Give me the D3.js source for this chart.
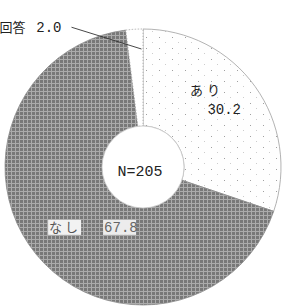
<!doctype html>
<html lang="ja">
<head>
<meta charset="utf-8">
<title>あり・なし 円グラフ</title>
<style>
  html, body { margin: 0; padding: 0; background: #fff; }
  svg { display: block; }
  text { font-family: 'Liberation Mono', 'Noto Sans CJK JP', monospace; }
</style>
</head>
<body>
<div id="chart"></div>
<script src="https://cdn.jsdelivr.net/npm/d3@7"></script>
<script>
// data
var categories = ["あり", "なし", "無回答"];
var values = [30.2, 67.8, 2.0];
var valueLabels = ["30.2", "67.8", "2.0"];
var centerLabel = "N=205";

var W = 283, H = 308;
var cx = 143, cy = 167, outerR = 138, innerR = 41;

var svg = d3.select("#chart").append("svg")
    .attr("width", W).attr("height", H);

var defs = svg.append("defs");

// gray screen tone for なし
var grid = defs.append("pattern").attr("id", "grid")
    .attr("width", 4).attr("height", 4).attr("patternUnits", "userSpaceOnUse");
grid.append("rect").attr("width", 4).attr("height", 4).attr("fill", "#787878");
grid.append("rect").attr("width", 1).attr("height", 4).attr("fill", "#ababab");
grid.append("rect").attr("width", 4).attr("height", 1).attr("fill", "#ababab");

// sparse dots for あり
var dots = defs.append("pattern").attr("id", "dots")
    .attr("width", 13).attr("height", 11).attr("patternUnits", "userSpaceOnUse");
dots.append("rect").attr("width", 13).attr("height", 11).attr("fill", "#fefefe");
dots.append("rect").attr("x", 3).attr("y", 2).attr("width", 1).attr("height", 1).attr("fill", "#a0a0a0");
dots.append("rect").attr("x", 9).attr("y", 7).attr("width", 1).attr("height", 1).attr("fill", "#cccccc");

var fills = d3.scaleOrdinal().domain(categories)
    .range(["url(#dots)", "url(#grid)", "#ffffff"]);

var pie = d3.pie().sort(null).value(function(d) { return d.value; });
var arcs = pie(categories.map(function(c, i) {
  return { name: c, value: values[i], label: valueLabels[i] };
}));

var arc = d3.arc().innerRadius(innerR).outerRadius(outerR);

var g = svg.append("g").attr("transform", "translate(" + cx + "," + cy + ")");

g.selectAll("path.slice").data(arcs).enter().append("path")
    .attr("class", "slice")
    .attr("d", arc)
    .attr("fill", function(d) { return fills(d.data.name); })
    .attr("stroke", function(d) { return d.index === 1 ? "#8a8a8a" : "#a0a0a0"; })
    .attr("stroke-width", 0.8)
    .attr("stroke-dasharray", function(d) { return d.index === 2 ? "1.5,1.5" : null; });

// hole
g.append("circle").attr("r", innerR).attr("fill", "#fff")
    .attr("stroke", "#c8c8c8").attr("stroke-width", 0.8);

g.append("text").attr("x", -3).attr("y", 9)
    .attr("text-anchor", "middle")
    .attr("font-size", 15).attr("fill", "#222")
    .text(centerLabel);

function polar(angle, r) {
  return [r * Math.sin(angle), -r * Math.cos(angle)];
}
function mid(d) { return (d.startAngle + d.endAngle) / 2; }

// あり
var a0 = arcs[0];
var pa = polar(mid(a0) - 0.17, 94);
g.append("text").attr("x", pa[0] - 19).attr("y", pa[1] - 5)
    .attr("font-size", 13).attr("fill", "#222")
    .attr("letter-spacing", 4)
    .text(a0.data.name);
g.append("text").attr("x", pa[0] + 32).attr("y", pa[1] + 14)
    .attr("text-anchor", "end")
    .attr("font-size", 14).attr("fill", "#222")
    .text(a0.data.label);

// なし (white boxes knocked out of the tone)
var a1 = arcs[1];
var pn = polar(mid(a1) - 0.18, 80);
var nx = pn[0] - 42, ny = pn[1] + 4;
g.append("rect").attr("x", nx - 1).attr("y", ny - 12).attr("width", 33).attr("height", 15)
    .attr("fill", "#f2f2f2");
g.append("text").attr("x", nx).attr("y", ny)
    .attr("font-size", 13).attr("fill", "#555")
    .attr("letter-spacing", 3)
    .text(a1.data.name);
g.append("rect").attr("x", nx + 54).attr("y", ny - 12).attr("width", 33).attr("height", 15)
    .attr("fill", "#ececec");
g.append("text").attr("x", nx + 55).attr("y", ny)
    .attr("font-size", 14).attr("fill", "#666")
    .text(a1.data.label);

// 無回答 with leader line
var a2 = arcs[2];
var tip = polar(mid(a2) + 0.05, outerR - 20);
var start = polar(mid(a2) - 0.41, 157);
g.append("line")
    .attr("x1", start[0]).attr("y1", start[1])
    .attr("x2", tip[0]).attr("y2", tip[1])
    .attr("stroke", "#333").attr("stroke-width", 0.9);
g.append("text").attr("x", start[0] - 10).attr("y", start[1] + 5)
    .attr("text-anchor", "end")
    .attr("font-size", 14).attr("fill", "#222")
    .text(a2.data.label);
g.append("text").attr("x", start[0] - 46).attr("y", start[1] + 5)
    .attr("text-anchor", "end")
    .attr("font-size", 13).attr("fill", "#222")
    .text(a2.data.name);
</script>
</body>
</html>
